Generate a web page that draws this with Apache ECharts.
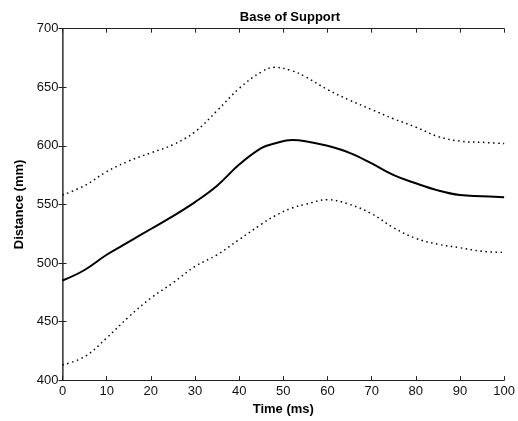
<!DOCTYPE html>
<html>
<head>
<meta charset="utf-8">
<script src="https://cdn.jsdelivr.net/npm/echarts@6/dist/echarts.min.js"></script>
<style>html,body{margin:0;padding:0;background:#fff;}#c{width:518px;height:421px;}</style>
</head>
<body>
<div id="c"></div>
<script>
var times = [0,5,10,15,20,25,30,35,40,45,48,52,55,60,65,70,75,80,85,90,95,100];
var meanVals  = [485,494,507,518,529,540,552,566,584,598,602,605,604,600,594,585,575,568,562,558,557,556];
var upperVals = [558,566,578,587,594,601,612,630,649,663,667,664,659,648,639,631,623,616,608,604,603,602];
var lowerVals = [413,420,436,454,470,483,497,507,520,533,540,547,550,554,550,542,530,521,516,513,510,509];
var xTicks = [0,10,20,30,40,50,60,70,80,90,100];
var yTicks = [400,450,500,550,600,650,700];

function pairs(v){ return times.map(function(t,i){ return [t, v[i]]; }); }

var chart = echarts.init(document.getElementById('c'), null, {renderer:'canvas'});
var font = 'Liberation Sans, Arial, sans-serif';
var axisLine = {show:true, lineStyle:{color:'#222', width:1}};
var tickIn = {show:true, inside:true, length:4, lineStyle:{color:'#222'}};
chart.setOption({
  animation:false,
  backgroundColor:'#fff',
  title:{text:'Base of Support', left:285, top:6, textAlign:'center',
    textStyle:{fontFamily:font, fontSize:13, fontWeight:'bold', color:'#000'}},
  grid:{left:62.5, right:9.5, top:28.7, bottom:40.3, containLabel:false},
  xAxis:[
    {type:'value', min:0, max:100, interval:10, position:'bottom',
      name:'Time (ms)', nameLocation:'middle', nameGap:22,
      nameTextStyle:{fontFamily:font, fontSize:13, fontWeight:'bold', color:'#000'},
      axisLine:axisLine, axisTick:tickIn, splitLine:{show:false},
      axisLabel:{fontFamily:font, fontSize:13, color:'#111', margin:5,
        formatter:function(v){ return xTicks.indexOf(v) >= 0 ? String(v) : ''; }}},
    {type:'value', min:0, max:100, interval:10, position:'top',
      axisLine:axisLine, axisTick:tickIn, splitLine:{show:false}, axisLabel:{show:false}}
  ],
  yAxis:[
    {type:'value', min:400, max:700, interval:50, position:'left',
      name:'Distance (mm)', nameLocation:'middle', nameGap:36,
      nameTextStyle:{fontFamily:font, fontSize:13, fontWeight:'bold', color:'#000'},
      axisLine:axisLine, axisTick:tickIn, splitLine:{show:false},
      axisLabel:{fontFamily:font, fontSize:13, color:'#111', margin:4,
        formatter:function(v){ return yTicks.indexOf(v) >= 0 ? String(v) : ''; }}},
    {type:'value', min:400, max:700, interval:50, position:'right',
      axisLine:{show:true, lineStyle:{color:'#555', width:1.5}}, axisTick:tickIn, splitLine:{show:false}, axisLabel:{show:false}}
  ],
  series:[
    {type:'line', data:pairs(meanVals), smooth:0.4, showSymbol:false,
      lineStyle:{color:'#000', width:2}},
    {type:'line', data:pairs(upperVals), smooth:0.4, showSymbol:false,
      lineStyle:{color:'#000', width:1.5, type:[1.5,3.5]}},
    {type:'line', data:pairs(lowerVals), smooth:0.4, showSymbol:false,
      lineStyle:{color:'#000', width:1.5, type:[1.5,3.5]}}
  ]
});
</script>
</body>
</html>
